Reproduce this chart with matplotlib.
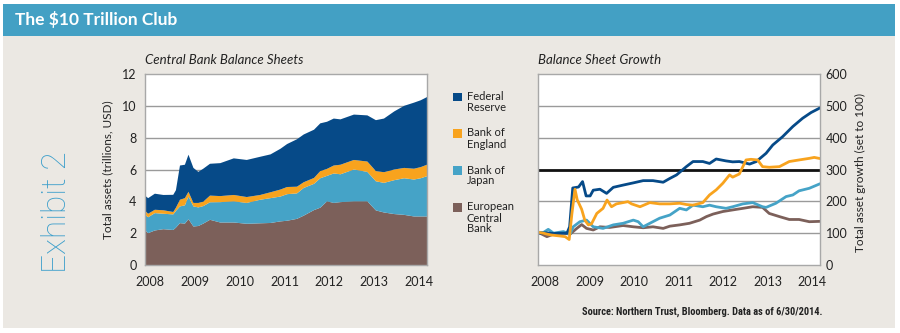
import matplotlib
matplotlib.use("Agg")
import matplotlib.pyplot as plt
from matplotlib.patches import Rectangle
import numpy as np

# ---------------- data ----------------
series_names = ["Federal\nReserve", "Bank of\nEngland", "Bank of\nJapan", "European\nCentral\nBank"]
colors = {"fed": "#064a88", "boe": "#f8a31e", "boj": "#45a3c7", "ecb": "#7c605a"}

# Central bank balance sheets (trillions USD), stacked components
bs_years = [2007.89, 2007.96, 2008.11, 2008.30, 2008.52, 2008.58, 2008.67, 2008.78, 2008.86, 2008.97,
            2009.08, 2009.19, 2009.34, 2009.57, 2009.87, 2010.16, 2010.46, 2010.69, 2010.91, 2011.06,
            2011.28, 2011.43, 2011.66, 2011.80, 2011.95, 2012.10, 2012.25, 2012.55, 2012.85, 2013.04,
            2013.22, 2013.45, 2013.67, 2013.89, 2014.04, 2014.18]
bs_ecb = [2.20, 2.00, 2.17, 2.25, 2.20, 2.35, 2.63, 2.60, 2.88, 2.42,
          2.45, 2.60, 2.84, 2.67, 2.67, 2.59, 2.62, 2.64, 2.74, 2.78,
          2.90, 3.10, 3.45, 3.60, 4.00, 3.90, 3.95, 4.00, 4.00, 3.43,
          3.30, 3.20, 3.15, 3.05, 3.05, 3.05]
bs_boj = [0.96, 1.00, 1.09, 0.97, 0.98, 1.05, 1.05, 1.15, 1.42, 1.26,
          1.17, 1.10, 1.10, 1.28, 1.33, 1.31, 1.48, 1.56, 1.56, 1.67,
          1.60, 1.74, 1.65, 1.85, 1.60, 1.85, 1.75, 2.00, 1.85, 1.83,
          1.86, 2.13, 2.30, 2.32, 2.40, 2.53]
bs_boe = [0.25, 0.22, 0.21, 0.22, 0.15, 0.20, 0.42, 0.45, 0.30, 0.22,
          0.28, 0.28, 0.42, 0.38, 0.40, 0.37, 0.30, 0.37, 0.44, 0.45,
          0.42, 0.36, 0.37, 0.45, 0.44, 0.50, 0.60, 0.60, 0.65, 0.64,
          0.67, 0.67, 0.65, 0.68, 0.70, 0.72]
bs_fed = [0.95, 0.98, 1.01, 0.96, 1.08, 1.10, 2.15, 2.10, 2.33, 2.20,
          1.95, 2.07, 2.00, 2.07, 2.30, 2.33, 2.40, 2.38, 2.56, 2.70,
          2.98, 3.00, 3.03, 3.00, 2.96, 2.95, 2.85, 2.85, 2.90, 3.20,
          3.37, 3.65, 3.90, 4.15, 4.20, 4.25]

# Balance sheet growth (index, set to 100)
fed_x = [2007.84, 2008.04, 2008.19, 2008.34, 2008.49, 2008.55, 2008.62, 2008.75, 2008.84, 2008.92,
         2009.01, 2009.08, 2009.23, 2009.38, 2009.53, 2009.75, 2009.98, 2010.20, 2010.42, 2010.65,
         2010.80, 2010.95, 2011.17, 2011.32, 2011.54, 2011.69, 2011.84, 2012.06, 2012.21, 2012.36,
         2012.59, 2012.74, 2012.96, 2013.11, 2013.33, 2013.56, 2013.78, 2013.97, 2014.15]
fed_y = [100, 101, 99, 100, 100, 120, 242, 245, 262, 217,
         217, 235, 238, 225, 244, 251, 258, 265, 265, 260,
         272, 283, 309, 325, 325, 319, 333, 327, 324, 325,
         317, 325, 351, 377, 403, 435, 461, 479, 492]
boe_x = [2007.84, 2007.96, 2008.04, 2008.15, 2008.34, 2008.45, 2008.54, 2008.60, 2008.67, 2008.72,
         2008.82, 2008.89, 2008.97, 2009.04, 2009.16, 2009.30, 2009.39, 2009.49, 2009.60, 2009.75,
         2009.86, 2009.94, 2010.13, 2010.35, 2010.57, 2010.80, 2011.02, 2011.17, 2011.32, 2011.54,
         2011.69, 2011.84, 2011.99, 2012.14, 2012.21, 2012.36, 2012.51, 2012.62, 2012.77, 2012.88,
         2013.03, 2013.26, 2013.48, 2013.70, 2013.93, 2014.04, 2014.15]
boe_y = [103, 100, 97, 94, 91, 89, 80, 160, 238, 205,
         175, 141, 126, 129, 162, 178, 204, 183, 192, 196,
         199, 192, 183, 196, 192, 192, 194, 190, 188, 196,
         220, 236, 257, 283, 276, 286, 330, 332, 330, 309,
         307, 309, 325, 330, 335, 338, 335]
boj_x = [2007.84, 2007.96, 2008.07, 2008.19, 2008.41, 2008.56, 2008.63, 2008.78, 2008.93, 2009.08,
         2009.30, 2009.53, 2009.75, 2009.98, 2010.09, 2010.20, 2010.35, 2010.57, 2010.80, 2011.02,
         2011.17, 2011.32, 2011.54, 2011.69, 2011.84, 2012.06, 2012.21, 2012.44, 2012.66, 2012.88,
         2012.96, 2013.18, 2013.41, 2013.56, 2013.70, 2013.93, 2014.15]
boj_y = [103, 102, 112, 100, 105, 97, 120, 136, 141, 120,
         115, 126, 131, 141, 136, 120, 131, 147, 157, 178,
         173, 188, 183, 188, 183, 178, 183, 192, 196, 183,
         181, 194, 215, 220, 233, 241, 254]
ecb_x = [2007.84, 2008.04, 2008.19, 2008.41, 2008.56, 2008.71, 2008.82, 2008.93, 2009.08, 2009.23,
         2009.45, 2009.75, 2009.98, 2010.20, 2010.42, 2010.65, 2010.80, 2011.02, 2011.24, 2011.47,
         2011.62, 2011.77, 2011.99, 2012.21, 2012.44, 2012.66, 2012.88, 2013.03, 2013.26, 2013.48,
         2013.70, 2013.93, 2014.15]
ecb_y = [103, 89, 97, 100, 97, 115, 127, 115, 110, 120,
         118, 124, 120, 117, 120, 115, 122, 126, 131, 141,
         152, 160, 168, 173, 178, 183, 181, 162, 152, 143,
         143, 136, 137]

year_ticks = [2008, 2009, 2010, 2011, 2012, 2013, 2014]
left_yticks = [0, 2, 4, 6, 8, 10, 12]
right_yticks = [0, 100, 200, 300, 400, 500, 600]

# ---------------- figure ----------------
W, H = 900, 333
fig = plt.figure(figsize=(9, 3.33), dpi=100, facecolor="white")
FONT = "Lato"
TXT = "#222222"

def fx(px):
    return px / W

def fy(py):
    return 1 - py / H

# background panel and title bar
fig.add_artist(Rectangle((fx(3), fy(328)), fx(892), (328 - 36) / H, transform=fig.transFigure,
                         facecolor="#ebe8e3", edgecolor="none", zorder=0))
fig.add_artist(Rectangle((fx(3), fy(36)), fx(892), 32 / H, transform=fig.transFigure,
                         facecolor="#43a0c4", edgecolor="none", zorder=0))
fig.text(fx(15), fy(20), "The $10 Trillion Club", color="white", fontsize=12.5,
         fontweight="bold", family=FONT, ha="left", va="center")
fig.text(fx(57), fy(212), "Exhibit 2", color="#3d9fcb", fontsize=24, fontweight="light",
         family=["Roboto", "Lato"], rotation=90, ha="center", va="center")

grid_c = "#9a9a9a"
spine_c = "#a8a8a8"

# ---------------- left: stacked area ----------------
ax1 = fig.add_axes([fx(145), fy(265), fx(282), 191 / H])
ax1.set_facecolor("white")
ax1.stackplot(bs_years, bs_ecb, bs_boj, bs_boe, bs_fed,
              colors=[colors["ecb"], colors["boj"], colors["boe"], colors["fed"]],
              linewidth=0, zorder=2)
ax1.set_xlim(2007.89, 2014.18)
ax1.set_ylim(0, 12)
ax1.set_yticks(left_yticks)
ax1.set_xticks(year_ticks)
for v in left_yticks[1:-1]:
    ax1.axhline(v, color=grid_c, lw=1, zorder=1)
ax1.tick_params(length=0, labelsize=9, colors=TXT)
ax1.tick_params(axis="y", pad=6)
ax1.tick_params(axis="x", pad=8)
for s in ax1.spines.values():
    s.set_color(spine_c)
    s.set_linewidth(1)
    s.set_zorder(3)
for lab in ax1.get_xticklabels() + ax1.get_yticklabels():
    lab.set_family(FONT)
fig.text(fx(145), fy(60), "Central Bank Balance Sheets", fontsize=9.5, style="italic",
         family=FONT, color=TXT, ha="left", va="center")
fig.text(fx(108), fy(170), "Total assets (trillions, USD)", fontsize=8.5, family=FONT,
         color=TXT, rotation=90, ha="center", va="center")

# ---------------- legend ----------------
leg_keys = ["fed", "boe", "boj", "ecb"]
leg_tops = [92.7, 129, 166, 203]
for key, name, top in zip(leg_keys, series_names, leg_tops):
    fig.add_artist(Rectangle((fx(453), fy(top + 8.5)), fx(8.5), 8.5 / H, transform=fig.transFigure,
                             facecolor=colors[key], edgecolor="none"))
    fig.text(fx(467), fy(top - 1.5), name, fontsize=8, family=FONT, color=TXT,
             ha="left", va="top", linespacing=1.0)

# ---------------- right: growth lines ----------------
ax2 = fig.add_axes([fx(538), fy(265), fx(282), 191 / H])
ax2.set_facecolor("white")
for v in [100, 200, 400, 500]:
    ax2.axhline(v, color=grid_c, lw=1, zorder=1)
ax2.axhline(300, color="#111111", lw=2, zorder=1.5)
ax2.plot(ecb_x, ecb_y, color=colors["ecb"], lw=2, zorder=2)
ax2.plot(boj_x, boj_y, color=colors["boj"], lw=2, zorder=2.1)
ax2.plot(fed_x, fed_y, color=colors["fed"], lw=2, zorder=2.2)
ax2.plot(boe_x, boe_y, color=colors["boe"], lw=2, zorder=2.3)
ax2.set_xlim(2007.84, 2014.17)
ax2.set_ylim(0, 600)
ax2.set_xticks(year_ticks)
ax2.set_yticks(right_yticks)
ax2.yaxis.tick_right()
ax2.tick_params(length=0, labelsize=9, colors=TXT)
ax2.tick_params(axis="y", pad=4)
ax2.tick_params(axis="x", pad=8)
for s in ax2.spines.values():
    s.set_color(spine_c)
    s.set_linewidth(1)
    s.set_zorder(3)
for lab in ax2.get_xticklabels() + ax2.get_yticklabels():
    lab.set_family(FONT)
fig.text(fx(538), fy(60), "Balance Sheet Growth", fontsize=9.5, style="italic",
         family=FONT, color=TXT, ha="left", va="center")
fig.text(fx(860), fy(172), "Total asset growth (set to 100)", fontsize=8.5, family=FONT,
         color=TXT, rotation=90, ha="center", va="center")

fig.text(fx(822), fy(312), "Source: Northern Trust, Bloomberg. Data as of 6/30/2014.",
         fontsize=7.5, fontweight="bold",
         family=["Roboto Condensed", "Open Sans Condensed", "Liberation Sans Narrow", "Lato"],
         color=TXT, ha="right", va="center")

fig.savefig("out.png", dpi=100, facecolor="white")
